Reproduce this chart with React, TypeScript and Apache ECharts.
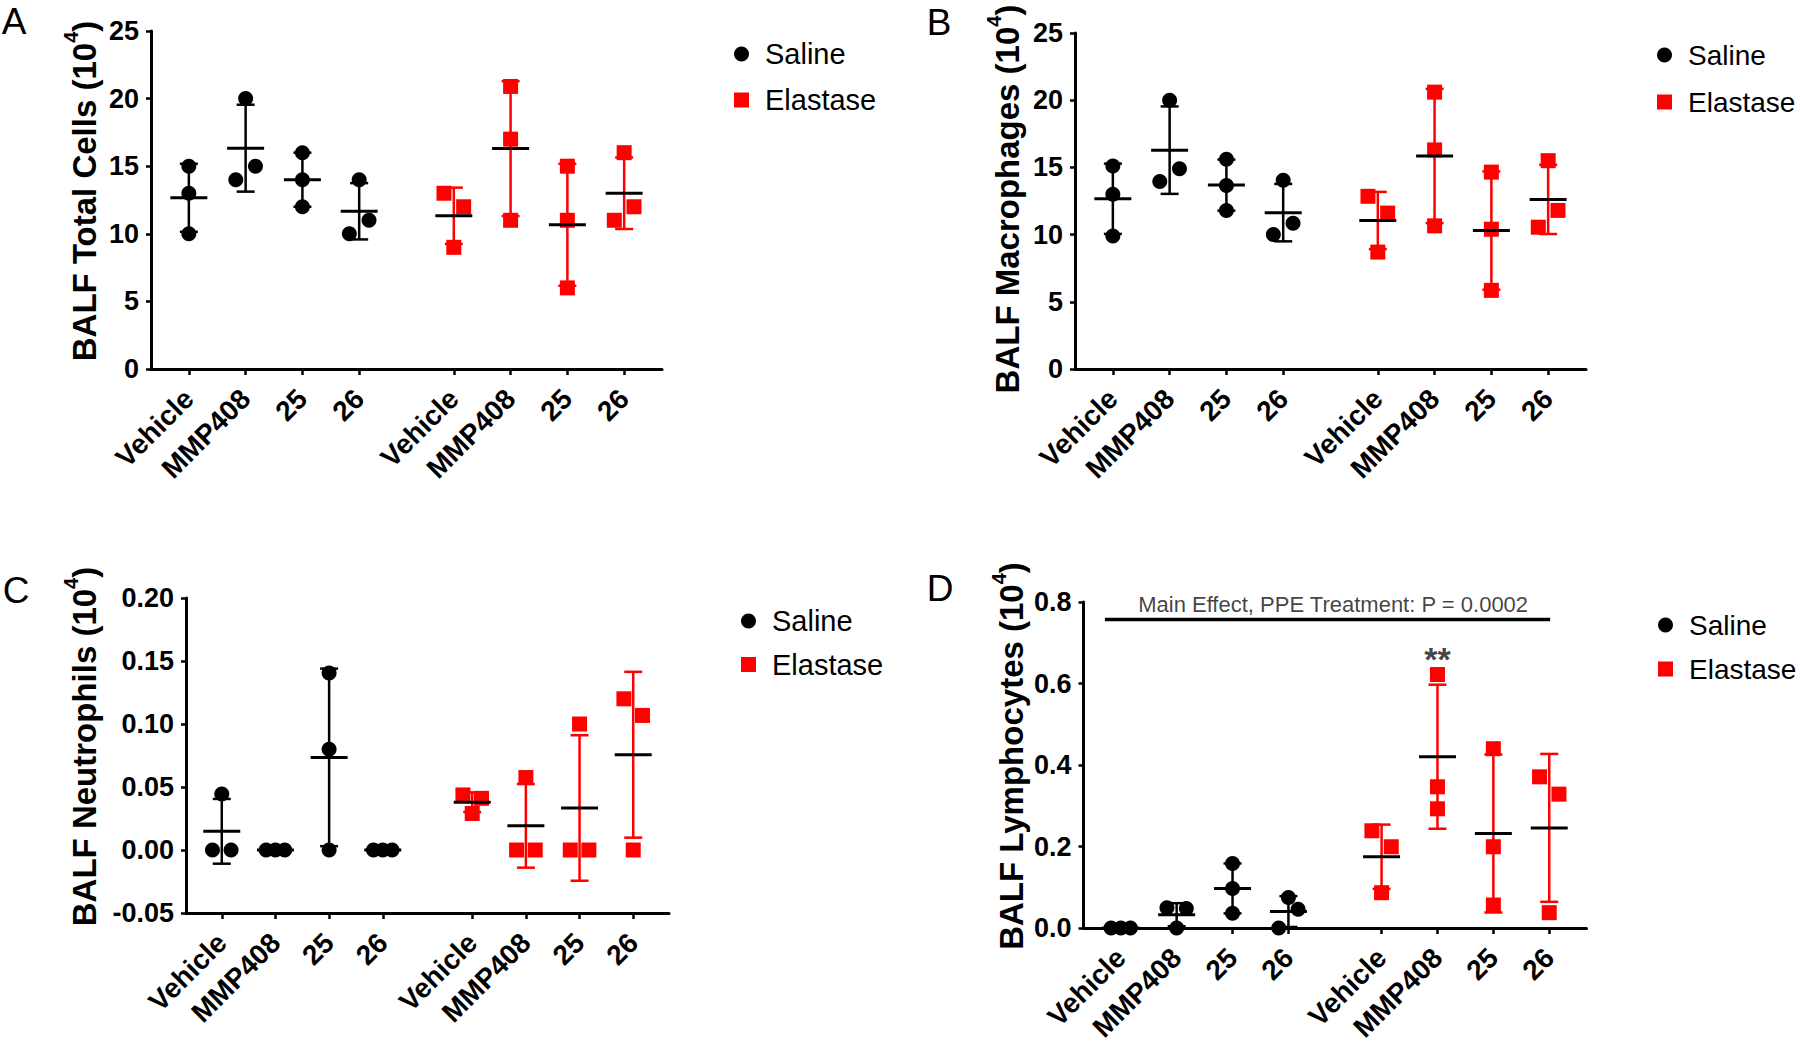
import React, { useEffect, useRef } from 'react';
import * as echarts from 'echarts';

const FONT = "'Liberation Sans', Arial, Helvetica, sans-serif";

// ---------- data ----------
const GROUPS = ['Vehicle', 'MMP408', '25', '26'];
const TREATMENTS = ['Saline', 'Elastase'];

// Panel A – BALF Total Cells
const A_SALINE = [[15, 13, 10], [20, 14, 15], [16, 14, 12], [14, 10, 11]];
const A_SALINE_JIT = [[0, 0, 0], [0, -1, 1], [0, 0, 0], [0, -1, 1]];
const A_ELASTASE = [[13, 12, 9], [20.9, 17, 11], [15, 11, 6], [16, 11, 12]];
const A_ELASTASE_JIT = [[-1, 1, 0], [0, 0, 0], [0, 0, 0], [0, -1, 1]];

// Panel B – BALF Macrophages
const B_SALINE = [[15.1, 13, 9.9], [20, 13.95, 14.9], [15.6, 13.65, 11.8], [14.05, 10, 10.85]];
const B_SALINE_JIT = [[0, 0, 0], [0, -1, 1], [0, 0, 0], [0, -1, 1]];
const B_ELASTASE = [[12.85, 11.6, 8.7], [20.6, 16.3, 10.65], [14.65, 10.4, 5.85], [15.5, 10.55, 11.8]];
const B_ELASTASE_JIT = [[-1, 1, 0], [0, 0, 0], [0, 0, 0], [0, -1, 1]];

// Panel C – BALF Neutrophils
const C_SALINE = [[0.0445, 0, 0], [0, 0, 0], [0.1405, 0.08, 0], [0, 0, 0]];
const C_SALINE_JIT = [[0, -1, 1], [-1, 0, 1], [0, 0, 0], [-1, 0, 1]];
const C_ELASTASE = [[0.0437, 0.041, 0.029], [0.0575, 0, 0], [0.1, 0, 0], [0.12, 0.1068, 0]];
const C_ELASTASE_JIT = [[-1, 1, 0], [0, -1, 1], [0, -1, 1], [-1, 1, 0]];

// Panel D – BALF Lymphocytes
const D_SALINE = [[0, 0, 0], [0.0498, 0.048, 0], [0.1585, 0.097, 0.036], [0.075, 0, 0.046]];
const D_SALINE_JIT = [[-1, 0, 1], [-1, 1, 0], [0, 0, 0], [0, -1, 1]];
const D_ELASTASE = [[0.2386, 0.1994, 0.0866], [0.622, 0.3465, 0.2925], [0.44, 0.1994, 0.0564], [0.371, 0.3285, 0.0376]];
const D_ELASTASE_JIT = [[-1, 1, 0], [0, 0, 0], [0, 0, 0], [-1, 1, 0]];

const D_MAIN_EFFECT_TEXT = 'Main Effect, PPE Treatment: P = 0.0002';
const D_MAIN_EFFECT_LINE = [[1.15, 0.757], [25.05, 0.757]];
const D_MAIN_EFFECT_LABEL = [13.4, 0.793];
const D_STAR_TEXT = '**';
const D_STAR_POS = [19, 0.66];

// ---------- layout ----------
const N_SLOTS = 28;
const SALINE_SLOTS = [2, 5, 8, 11];
const ELASTASE_SLOTS = [16, 19, 22, 25];
const JIT = 0.52;
const SLOT_LABELS: string[] = Array.from({ length: N_SLOTS }, () => '');
SALINE_SLOTS.forEach((s, i) => (SLOT_LABELS[s] = GROUPS[i]));
ELASTASE_SLOTS.forEach((s, i) => (SLOT_LABELS[s] = GROUPS[i]));

const PANELS = [
  {
    letter: 'A', letterPos: [14, 21], title: 'BALF Total Cells',
    saline: A_SALINE, salineJit: A_SALINE_JIT, elastase: A_ELASTASE, elastaseJit: A_ELASTASE_JIT,
    min: 0, max: 25, interval: 5, dec: 0,
    grid: { left: 151, top: 31, width: 511, height: 338 }, nameGap: 44, namePad: 18,
    legend: { left: 729, top: 34, gap: 16, font: 29 },
  },
  {
    letter: 'B', letterPos: [939, 22], title: 'BALF Macrophages',
    saline: B_SALINE, salineJit: B_SALINE_JIT, elastase: B_ELASTASE, elastaseJit: B_ELASTASE_JIT,
    min: 0, max: 25, interval: 5, dec: 0,
    grid: { left: 1075, top: 33, width: 511, height: 336 }, nameGap: 45, namePad: 4,
    legend: { left: 1652, top: 35, gap: 17, font: 28 },
  },
  {
    letter: 'C', letterPos: [16, 590], title: 'BALF Neutrophils',
    saline: C_SALINE, salineJit: C_SALINE_JIT, elastase: C_ELASTASE, elastaseJit: C_ELASTASE_JIT,
    min: -0.05, max: 0.2, interval: 0.05, dec: 2,
    grid: { left: 186, top: 598, width: 483, height: 315 }, nameGap: 79, namePad: 18,
    legend: { left: 736, top: 601, gap: 13.5, font: 29 },
  },
  {
    letter: 'D', letterPos: [940, 588], title: 'BALF Lymphocytes',
    saline: D_SALINE, salineJit: D_SALINE_JIT, elastase: D_ELASTASE, elastaseJit: D_ELASTASE_JIT,
    min: 0, max: 0.8, interval: 0.2, dec: 1,
    grid: { left: 1083.5, top: 602, width: 503, height: 326 }, nameGap: 49, namePad: 18,
    legend: { left: 1653, top: 605, gap: 14, font: 28 },
  },
];

const COLORS = { Saline: '#000000', Elastase: '#ff0000' };

function meanSd(vals: number[]) {
  const m = vals.reduce((a, b) => a + b, 0) / vals.length;
  const v = vals.reduce((a, b) => a + (b - m) * (b - m), 0) / (vals.length - 1);
  return [m, Math.sqrt(v)];
}

function errRender(color: string) {
  return (params: any, api: any) => {
    const x = api.value(0);
    const m = api.value(1);
    const s = api.value(2);
    const c = api.coord([x, m]);
    const children: any[] = [];
    if (s > 0) {
      const t = api.coord([x, m + s]);
      const b = api.coord([x, m - s]);
      children.push({ type: 'line', shape: { x1: c[0], y1: t[1], x2: c[0], y2: b[1] }, style: { stroke: color, lineWidth: 2.5 } });
      children.push({ type: 'line', shape: { x1: c[0] - 9, y1: t[1], x2: c[0] + 9, y2: t[1] }, style: { stroke: color, lineWidth: 2.5 } });
      children.push({ type: 'line', shape: { x1: c[0] - 9, y1: b[1], x2: c[0] + 9, y2: b[1] }, style: { stroke: color, lineWidth: 2.5 } });
    }
    children.push({ type: 'line', shape: { x1: c[0] - 18.5, y1: c[1], x2: c[0] + 18.5, y2: c[1] }, style: { stroke: '#000', lineWidth: 3 } });
    return { type: 'group', children };
  };
}

function buildOption() {
  const grid: any[] = [];
  const xAxis: any[] = [];
  const yAxis: any[] = [];
  const legend: any[] = [];
  const series: any[] = [];
  const graphic: any[] = [];

  PANELS.forEach((p, i) => {
    grid.push({ ...p.grid, containLabel: false, outerBoundsMode: 'none' });
    xAxis.push({
      type: 'category', gridIndex: i, data: SLOT_LABELS, boundaryGap: false,
      axisLine: { show: true, onZero: false, lineStyle: { color: '#000', width: 3 } },
      axisTick: { show: true, interval: (idx: number) => SLOT_LABELS[idx] !== '', length: 6, lineStyle: { color: '#000', width: 2.5 } },
      axisLabel: {
        interval: (idx: number) => SLOT_LABELS[idx] !== '', rotate: 45, margin: 25,
        fontSize: 28, fontWeight: 'bold', fontFamily: FONT, color: '#000',
      },
      splitLine: { show: false },
    });
    xAxis.push({ type: 'value', gridIndex: i, show: false, min: 0, max: N_SLOTS - 1 });
    yAxis.push({
      type: 'value', gridIndex: i, min: p.min, max: p.max, interval: p.interval,
      name: `{b|${p.title} (10}{s|4}{b|)}`,
      nameLocation: 'middle', nameRotate: 90, nameGap: p.nameGap,
      nameTextStyle: {
        padding: [0, 0, 0, p.namePad],
        rich: {
          b: { fontSize: 33, fontWeight: 'bold', fontFamily: FONT, color: '#000', lineHeight: 46 },
          s: { fontSize: 20, fontWeight: 'bold', fontFamily: FONT, color: '#000', lineHeight: 14, verticalAlign: 'top' },
        },
      },
      axisLine: { show: true, onZero: false, lineStyle: { color: '#000', width: 3 } },
      axisTick: { show: true, length: 5, lineStyle: { color: '#000', width: 2.5 } },
      axisLabel: {
        margin: 12, fontSize: 27, fontWeight: 'bold', fontFamily: FONT, color: '#000',
        formatter: (v: number) => v.toFixed(p.dec),
      },
      splitLine: { show: false },
    });

    legend.push({
      orient: 'vertical', left: p.legend.left, top: p.legend.top,
      itemWidth: 15, itemHeight: 15, itemGap: p.legend.gap,
      data: TREATMENTS, selectedMode: false,
      textStyle: { fontSize: p.legend.font, fontFamily: FONT, color: '#000', lineHeight: 30, padding: [0, 0, 0, 11] },
    });

    const groups = [
      { name: 'Saline', vals: p.saline, jit: p.salineJit, slots: SALINE_SLOTS, symbol: 'circle' },
      { name: 'Elastase', vals: p.elastase, jit: p.elastaseJit, slots: ELASTASE_SLOTS, symbol: 'rect' },
    ];
    groups.forEach((g) => {
      const color = (COLORS as any)[g.name];
      const pts: number[][] = [];
      g.vals.forEach((arr, gi) => arr.forEach((v, k) => pts.push([g.slots[gi] + g.jit[gi][k] * JIT, v])));
      series.push({
        type: 'scatter', name: g.name, xAxisIndex: 2 * i + 1, yAxisIndex: i,
        symbol: g.symbol, symbolSize: 15, itemStyle: { color, opacity: 1 },
        data: pts, silent: true, z: 2,
      });
      series.push({
        type: 'custom', name: g.name + ' mean ± SD', xAxisIndex: 2 * i + 1, yAxisIndex: i,
        renderItem: errRender(color), encode: { x: 0, y: 1 },
        data: g.vals.map((arr, gi) => [g.slots[gi], ...meanSd(arr)]),
        silent: true, z: 3,
      });
    });

    graphic.push({
      type: 'text', x: p.letterPos[0], y: p.letterPos[1],
      style: { text: p.letter, fontSize: 37, fontFamily: FONT, fill: '#000', align: 'center', verticalAlign: 'middle' },
    });
  });

  // Panel D annotations
  series.push({
    type: 'line', name: 'main-effect', xAxisIndex: 7, yAxisIndex: 3,
    data: D_MAIN_EFFECT_LINE, symbol: 'none', lineStyle: { color: '#000', width: 3.3 }, silent: true, z: 4,
  });
  series.push({
    type: 'scatter', name: 'annot', xAxisIndex: 7, yAxisIndex: 3, symbolSize: 1,
    itemStyle: { color: 'rgba(0,0,0,0)' }, silent: true, z: 4,
    data: [
      { value: D_MAIN_EFFECT_LABEL, label: { show: true, position: 'inside', formatter: D_MAIN_EFFECT_TEXT, fontSize: 22, fontFamily: FONT, color: '#111' } },
      { value: D_STAR_POS, label: { show: true, position: 'inside', formatter: D_STAR_TEXT, fontSize: 34, fontWeight: 'bold', fontFamily: FONT, color: '#111' } },
    ],
  });

  return {
    animation: false,
    backgroundColor: '#ffffff',
    grid, xAxis, yAxis, legend, series, graphic,
  };
}

export default function App() {
  const ref = useRef<HTMLDivElement>(null);
  useEffect(() => {
    if (!ref.current) return;
    const chart = echarts.init(ref.current, undefined, { renderer: 'svg' });
    chart.setOption(buildOption() as any);
    return () => chart.dispose();
  }, []);
  return <div ref={ref} style={{ position: 'absolute', left: 0, top: 0, width: 1800, height: 1051 }} />;
}
